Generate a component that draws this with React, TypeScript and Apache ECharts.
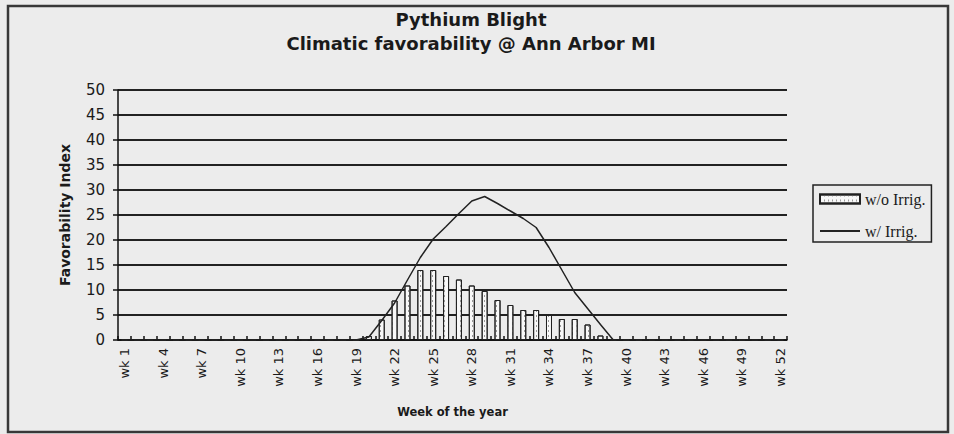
import React, { useEffect, useRef } from "react";
import * as echarts from "echarts";

const weeks: string[] = Array.from({ length: 52 }, (_, i) => `wk ${i + 1}`);

// Favorability index without irrigation (bars), weeks 1..52
const withoutIrrig: number[] = [
  0, 0, 0, 0, 0, 0, 0, 0, 0, 0,
  0, 0, 0, 0, 0, 0, 0, 0, 0, 0.8,
  4.1, 7.9, 10.9, 14.0, 14.0, 12.8, 12.1, 10.9, 9.8, 8.0,
  7.0, 6.0, 6.0, 5.0, 4.2, 4.2, 3.1, 0.9, 0, 0,
  0, 0, 0, 0, 0, 0, 0, 0, 0, 0,
  0, 0,
];

// Favorability index with irrigation (line), weeks 1..52
const withIrrig: number[] = [
  0, 0, 0, 0, 0, 0, 0, 0, 0, 0,
  0, 0, 0, 0, 0, 0, 0, 0, 0, 0.6,
  3.9, 7.4, 12.0, 16.5, 20.2, 22.7, 25.3, 27.8, 28.7, 27.3,
  25.8, 24.3, 22.5, 18.5, 14.0, 9.5, 6.3, 3.1, 0, 0,
  0, 0, 0, 0, 0, 0, 0, 0, 0, 0,
  0, 0,
];

const seriesNames = ["w/o Irrig.", "w/ Irrig."];
const titleLines = ["Pythium Blight", "Climatic favorability @ Ann Arbor MI"];

export default function App() {
  const ref = useRef<HTMLDivElement>(null);
  useEffect(() => {
    if (!ref.current) return;
    const chart = echarts.init(ref.current, undefined, { renderer: "svg" });
    const sans = "'DejaVu Sans', Arial, sans-serif";
    chart.setOption({
      animation: false,
      backgroundColor: "#ececec",
      title: {
        text: titleLines.join("\n"),
        left: 466,
        textAlign: "center",
        top: 2,
        textStyle: {
          fontFamily: sans,
          fontWeight: "bold",
          fontSize: 18,
          lineHeight: 24,
          color: "#1a1a1a",
        },
      },
      graphic: [
        {
          type: "rect",
          shape: { x: 8, y: 6, width: 940, height: 426 },
          style: { fill: "none", stroke: "#383838", lineWidth: 2.5 },
          silent: true,
        },
      ],
      legend: {
        orient: "vertical",
        left: 813,
        top: 185,
        itemWidth: 40,
        itemHeight: 9,
        itemGap: 16,
        padding: [6, 6, 3, 6],
        borderColor: "#222",
        borderWidth: 1.5,
        textStyle: {
          fontFamily: "'Liberation Serif', 'Times New Roman', serif",
          fontSize: 16,
          color: "#1a1a1a",
        },
        data: [
          { name: seriesNames[0], icon: "rect" },
          { name: seriesNames[1], itemStyle: { opacity: 0 } },
        ],
      },
      grid: { left: 118, right: 167, top: 90, bottom: 94 },
      xAxis: [
        {
          type: "category",
          data: weeks,
          boundaryGap: true,
          name: "Week of the year",
          nameLocation: "middle",
          nameGap: 66,
          nameTextStyle: {
            fontFamily: sans,
            fontWeight: "bold",
            fontSize: 11.5,
            color: "#1a1a1a",
          },
          axisLine: { lineStyle: { color: "#111", width: 1.5 } },
          axisTick: { interval: 0, length: 4, lineStyle: { color: "#111", width: 1.5 } },
          axisLabel: {
            interval: 2,
            rotate: 90,
            margin: 8,
            fontFamily: sans,
            fontSize: 13,
            color: "#1a1a1a",
          },
        },
        {
          type: "category",
          data: weeks,
          boundaryGap: true,
          position: "bottom",
          axisLine: { show: false },
          axisTick: { show: true, inside: true, interval: 0, length: 4, lineStyle: { color: "#111", width: 1.5 } },
          axisLabel: { show: false },
          splitLine: { show: false },
        },
      ],
      yAxis: {
        type: "value",
        min: 0,
        max: 50,
        interval: 5,
        name: "Favorability Index",
        nameLocation: "middle",
        nameGap: 46,
        nameTextStyle: {
          fontFamily: sans,
          fontWeight: "bold",
          fontSize: 14,
          color: "#1a1a1a",
        },
        axisLine: { show: true, lineStyle: { color: "#111", width: 1.5 } },
        axisTick: { show: true, length: 5, lineStyle: { color: "#111", width: 1.5 } },
        axisLabel: {
          margin: 13,
          fontFamily: sans,
          fontSize: 15,
          color: "#1a1a1a",
        },
        splitLine: { lineStyle: { color: "#222", width: 2 } },
      },
      series: [
        {
          name: seriesNames[0],
          type: "bar",
          data: withoutIrrig,
          barWidth: 6,
          itemStyle: {
            color: "#f8f8f8",
            borderColor: "#222",
            borderWidth: 1,
            decal: {
              symbol: "rect",
              symbolSize: 1,
              dashArrayX: [1, 3],
              dashArrayY: [2, 3],
              color: "#9a9a9a",
              rotation: 0,
            },
          },
        },
        {
          name: seriesNames[1],
          type: "line",
          data: withIrrig,
          symbol: "none",
          showSymbol: false,
          lineStyle: { color: "#222", width: 1.5 },
          itemStyle: { color: "#222" },
          z: 3,
        },
      ],
    });
    return () => chart.dispose();
  }, []);
  return (
    <div
      ref={ref}
      style={{ position: "absolute", left: 0, top: 0, width: 954, height: 434 }}
    />
  );
}
